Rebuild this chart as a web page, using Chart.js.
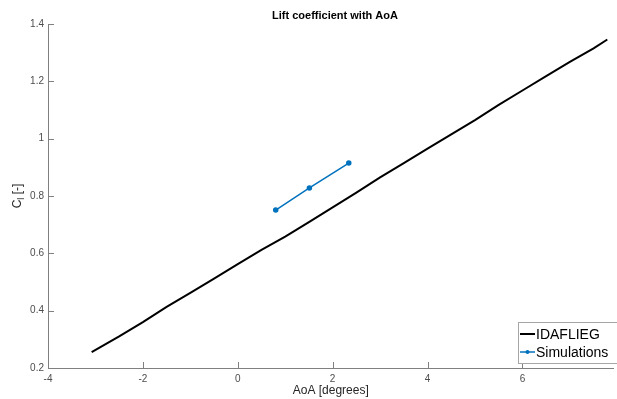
<!DOCTYPE html>
<html>
<head>
<meta charset="utf-8">
<script src="https://cdn.jsdelivr.net/npm/chart.js@4/dist/chart.umd.min.js"></script>
<style>
  html, body { margin: 0; padding: 0; background: #fff; }
  #wrap { width: 617px; height: 399px; }
</style>
</head>
<body>
<div id="wrap"><canvas id="clChart" width="617" height="399"></canvas></div>
<script>
// IDAFLIEG reference curve
const aoaRef = [-3.08, -2.5, -2.0, -1.5, -1.0, -0.5, 0.0, 0.5, 1.0, 1.5, 2.0, 2.5, 3.0, 3.5, 4.0, 4.5, 5.0, 5.5, 6.0, 6.5, 7.0, 7.5, 7.79];
const clRef = [0.255, 0.31, 0.36, 0.413, 0.462, 0.512, 0.562, 0.612, 0.658, 0.709, 0.76, 0.812, 0.865, 0.915, 0.965, 1.015, 1.065, 1.118, 1.168, 1.218, 1.268, 1.315, 1.346];

// simulation points
const aoaSim = [0.8, 1.51, 2.34];
const clSim = [0.751, 0.828, 0.915];

const xTicks = [-4, -2, 0, 2, 4, 6];
const yTicks = [0.2, 0.4, 0.6, 0.8, 1, 1.2, 1.4];

const seriesNames = ['IDAFLIEG', 'Simulations'];
const titleText = 'Lift coefficient with AoA';

const axisGray = '#808080';
const textGray = '#4d4d4d';

const toPoints = (xs, ys) => xs.map((x, i) => ({ x, y: ys[i] }));

// ticks pointing into the plot, like the original
const innerTicks = {
    id: 'innerTicks',
    afterDraw(chart) {
        const { ctx, chartArea, scales } = chart;
        ctx.save();
        ctx.strokeStyle = axisGray;
        ctx.lineWidth = 1;
        ctx.beginPath();
        xTicks.forEach(v => {
            const px = Math.round(scales.x.getPixelForValue(v)) + 0.5;
            ctx.moveTo(px, chartArea.bottom);
            ctx.lineTo(px, chartArea.bottom - 6);
        });
        yTicks.forEach(v => {
            const py = Math.round(scales.y.getPixelForValue(v)) + 0.5;
            ctx.moveTo(chartArea.left, py);
            ctx.lineTo(chartArea.left + 6, py);
        });
        ctx.stroke();
        ctx.restore();
    }
};

// title + y label with subscript
const labels = {
    id: 'labels',
    afterDraw(chart) {
        const { ctx } = chart;
        ctx.save();
        ctx.fillStyle = '#000';
        ctx.font = 'bold 11px "Liberation Sans", Arial, sans-serif';
        ctx.textAlign = 'center';
        ctx.textBaseline = 'middle';
        ctx.fillText(titleText, 335, 16);

        ctx.translate(17, 196);
        ctx.rotate(-Math.PI / 2);
        ctx.fillStyle = '#262626';
        ctx.textBaseline = 'alphabetic';
        ctx.textAlign = 'left';
        ctx.font = '12px "Liberation Sans", Arial, sans-serif';
        const c = 'C';
        const rest = ' [-]';
        ctx.font = '12px "Liberation Sans", Arial, sans-serif';
        const wC = ctx.measureText(c).width;
        ctx.font = '9px "Liberation Sans", Arial, sans-serif';
        const wSub = ctx.measureText('l').width;
        ctx.font = '12px "Liberation Sans", Arial, sans-serif';
        const wRest = ctx.measureText(rest).width;
        const total = wC + wSub + wRest;
        let x0 = -total / 2;
        ctx.fillText(c, x0, 4);
        ctx.font = '9px "Liberation Sans", Arial, sans-serif';
        ctx.fillText('l', x0 + wC, 7);
        ctx.font = '12px "Liberation Sans", Arial, sans-serif';
        ctx.fillText(rest, x0 + wC + wSub, 4);
        ctx.restore();
    }
};

// boxed legend in the lower right corner
const boxLegend = {
    id: 'boxLegend',
    afterDraw(chart) {
        const { ctx } = chart;
        const ds = chart.data.datasets;
        ctx.save();
        ctx.fillStyle = '#fff';
        ctx.fillRect(518, 322, 110, 41);
        ctx.strokeStyle = '#a6a6a6';
        ctx.lineWidth = 1;
        ctx.strokeRect(518.5, 322.5, 110, 41);
        ctx.font = '14px "Liberation Sans", Arial, sans-serif';
        ctx.textBaseline = 'middle';
        ctx.textAlign = 'left';
        ds.forEach((d, i) => {
            const y = 334 + i * 18;
            ctx.strokeStyle = d.borderColor;
            ctx.lineWidth = d.borderWidth;
            ctx.beginPath();
            ctx.moveTo(520, y);
            ctx.lineTo(535, y);
            ctx.stroke();
            if (d.pointRadius > 0) {
                ctx.fillStyle = d.borderColor;
                ctx.beginPath();
                ctx.arc(527.5, y, d.pointRadius, 0, Math.PI * 2);
                ctx.fill();
            }
            ctx.fillStyle = '#000';
            ctx.fillText(d.label, 536, y + 1);
        });
        ctx.restore();
    }
};

new Chart(document.getElementById('clChart').getContext('2d'), {
    type: 'line',
    data: {
        datasets: [{
            label: seriesNames[0],
            data: toPoints(aoaRef, clRef),
            borderColor: '#000000',
            borderWidth: 2,
            pointRadius: 0,
            tension: 0,
            fill: false
        }, {
            label: seriesNames[1],
            data: toPoints(aoaSim, clSim),
            borderColor: '#0072BD',
            backgroundColor: '#0072BD',
            borderWidth: 1.5,
            pointRadius: 2,
            pointHoverRadius: 2,
            tension: 0,
            fill: false
        }]
    },
    options: {
        responsive: false,
        animation: false,
        layout: { padding: { top: 24, right: 0, left: 0, bottom: 0 } },
        plugins: {
            legend: { display: false },
            title: { display: false },
            tooltip: { enabled: false }
        },
        scales: {
            x: {
                type: 'linear',
                min: -4,
                max: 7.92,
                afterBuildTicks: s => { s.ticks = xTicks.map(v => ({ value: v })); },
                afterFit: s => { s.height = 31; },
                grid: { drawOnChartArea: false, drawTicks: false },
                border: { color: axisGray, width: 1 },
                ticks: {
                    color: textGray,
                    padding: 5,
                    maxRotation: 0,
                    font: { family: '"Liberation Sans", Arial, sans-serif', size: 10 }
                },
                title: {
                    display: true,
                    text: 'AoA [degrees]',
                    color: '#262626',
                    padding: { top: 0, bottom: 1 },
                    font: { family: '"Liberation Sans", Arial, sans-serif', size: 12 }
                }
            },
            y: {
                min: 0.2,
                max: 1.4,
                afterBuildTicks: s => { s.ticks = yTicks.map(v => ({ value: v })); },
                afterFit: s => { s.width = 48; },
                grid: { drawOnChartArea: false, drawTicks: false },
                border: { color: axisGray, width: 1 },
                ticks: {
                    color: textGray,
                    padding: 4,
                    font: { family: '"Liberation Sans", Arial, sans-serif', size: 10 },
                    callback: v => String(v)
                }
            }
        }
    },
    plugins: [innerTicks, labels, boxLegend]
});
</script>
</body>
</html>
